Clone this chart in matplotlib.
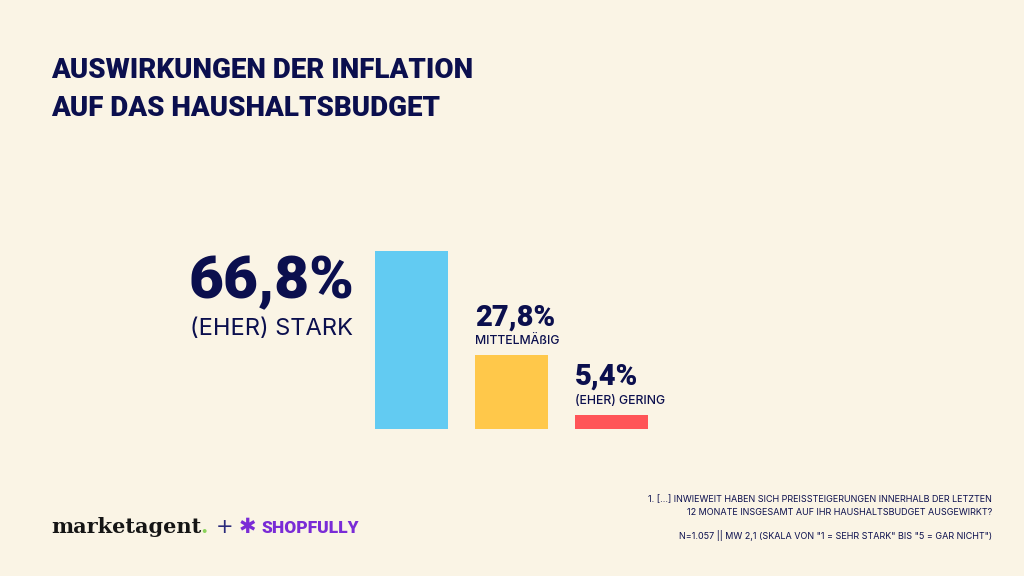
import matplotlib
matplotlib.use("Agg")
import matplotlib.pyplot as plt

# ---- data ----
categories = ["(EHER) STARK", "MITTELMÄßIG", "(EHER) GERING"]
values = [66.8, 27.8, 5.4]
value_labels = ["66,8%", "27,8%", "5,4%"]
colors = ["#62CBF2", "#FFC84A", "#FF5457"]

title_lines = ["AUSWIRKUNGEN DER INFLATION", "AUF DAS HAUSHALTSBUDGET"]
footnote_lines = [
    "1. [...] INWIEWEIT HABEN SICH PREISSTEIGERUNGEN INNERHALB DER LETZTEN",
    "12 MONATE INSGESAMT AUF IHR HAUSHALTSBUDGET AUSGEWIRKT?",
    "N=1.057 || MW 2,1 (SKALA VON \"1 = SEHR STARK\" BIS \"5 = GAR NICHT\")",
]

BG = "#FAF4E5"
NAVY = "#0B0F4E"
W, H = 1024, 576

fig = plt.figure(figsize=(W / 100, H / 100), dpi=100, facecolor=BG)

def fx(px):
    return px / W

def fy(py):
    return 1 - py / H

ymax = 70
ax_left, ax_right = 361.5, 661.5
ax_bottom = 429
ax_top = ax_bottom - ymax * 2.665
ax = fig.add_axes([fx(ax_left), fy(ax_bottom), fx(ax_right - ax_left), (ax_bottom - ax_top) / H])
ax.set_facecolor("none")
ax.set_xlim(-0.5, 2.5)
ax.set_ylim(0, ymax)
ax.axis("off")

bw = 0.73
xs = list(range(len(values)))
ax.bar(xs, values, width=bw, color=colors, linewidth=0)

PT = 0.72  # px -> pt
BOLD = "Roboto"
REG = "Inter"

ax.annotate(value_labels[0], xy=(xs[0] - bw / 2, values[0]), xytext=(-21 * PT, -47 * PT),
            textcoords="offset points", ha="right", va="baseline",
            fontsize=43.5, fontweight="black", color=NAVY, family=BOLD)
ax.annotate(categories[0], xy=(xs[0] - bw / 2, values[0]), xytext=(-22 * PT, -84 * PT),
            textcoords="offset points", ha="right", va="baseline",
            fontsize=17, color=NAVY, family=REG)

for i in (1, 2):
    ax.annotate(value_labels[i], xy=(xs[i] - bw / 2, values[i]), xytext=(0, 29.5 * PT),
                textcoords="offset points", ha="left", va="baseline",
                fontsize=21, fontweight="black", color=NAVY, family=BOLD)
    ax.annotate(categories[i], xy=(xs[i] - bw / 2, values[i]), xytext=(0, 11 * PT),
                textcoords="offset points", ha="left", va="baseline",
                fontsize=8.8, fontweight="medium", color=NAVY, family=REG)

fig.text(fx(51), fy(78), title_lines[0], fontsize=20, fontweight="black", color=NAVY,
         family=BOLD, ha="left", va="baseline")
fig.text(fx(51), fy(116), title_lines[1], fontsize=20, fontweight="black", color=NAVY,
         family=BOLD, ha="left", va="baseline")

for txt, y in zip(footnote_lines, [502, 515, 539]):
    fig.text(fx(992), fy(y), txt, fontsize=6.5, color=NAVY, family=REG,
             ha="right", va="baseline")

fig.text(fx(51), fy(533), "marketagent", fontsize=15, fontweight="bold",
             color="#151515", family="DejaVu Serif", ha="left", va="baseline")
fig.text(fx(200), fy(533), ".", fontsize=15, fontweight="bold", color="#8BD35A",
         family="DejaVu Serif", ha="left", va="baseline")
fig.text(fx(216), fy(533), "+", fontsize=15, color="#2A2A7A",
         family="DejaVu Sans", ha="left", va="baseline")
fig.text(fx(239), fy(533), "\u2731", fontsize=15, color="#7A2BD6",
         family="DejaVu Sans", ha="left", va="baseline")
fig.text(fx(261), fy(533), "SHOPFULLY", fontsize=12.5, fontweight="black", color="#7A2BD6",
         family=BOLD, ha="left", va="baseline")

fig.savefig("out.png", dpi=100, facecolor=BG)
